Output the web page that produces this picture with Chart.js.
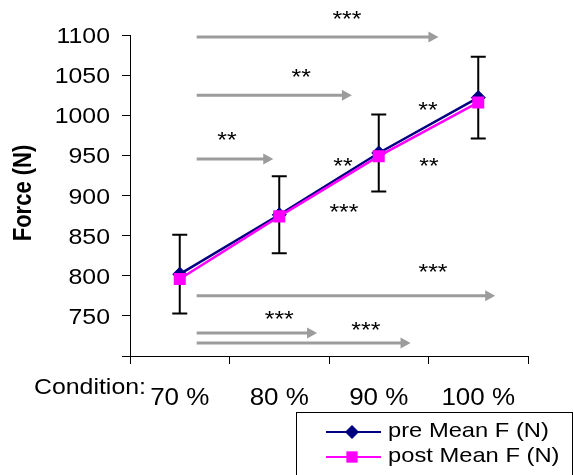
<!DOCTYPE html>
<html>
<head>
<meta charset="utf-8">
<title>Force by condition</title>
<script src="https://cdn.jsdelivr.net/npm/chart.js@4.4.1/dist/chart.umd.min.js"></script>
<style>
  html, body { margin: 0; padding: 0; background: #fff; }
  #wrap { width: 573px; height: 475px; position: relative; }
</style>
</head>
<body>
<div id="wrap"><canvas id="force-chart"></canvas></div>
<script>
(function () {
  "use strict";

  // Data
  var conditions = ["70 %", "80 %", "90 %", "100 %"];
  var preMean = [802, 876, 953, 1022];
  var preSD = [49, 48, 48, 51];
  var postMean = [796, 874, 949, 1016];

  // significance arrows: x in category units, y in N
  var arrowFrom = [0.17, 0.17, 0.17, 0.17, 0.17, 0.17];
  var arrowTo = [2.6, 1.73, 0.94, 3.17, 1.38, 2.32];
  var arrowAt = [1097.5, 1025, 945.5, 775, 728.7, 716.2];

  // star labels
  var starText = ["***", "**", "**", "***", "***", "***", "**", "**", "**", "***"];
  var starX = [1.68, 1.22, 0.475, 2.545, 1.0, 1.87, 1.64, 2.495, 2.505, 1.65];
  var starY = [1125, 1052.6, 974, 809.7, 751, 737.4, 941.7, 1011.5, 941.7, 884.4];

  var FONT = "'Liberation Sans', Arial, sans-serif";
  var STRETCH = 1.13;

  // text is drawn a little wide
  function wideText(ctx, text, x, y, align, font) {
    ctx.save();
    ctx.font = font;
    ctx.fillStyle = "#000";
    ctx.textAlign = align;
    ctx.textBaseline = "alphabetic";
    ctx.translate(x, y);
    ctx.scale(STRETCH, 1);
    ctx.fillText(text, 0, 0);
    ctx.restore();
  }

  function drawMarker(ctx, style, x, y, r, color) {
    ctx.save();
    ctx.fillStyle = color;
    ctx.beginPath();
    if (style === "rectRot") {
      ctx.moveTo(x - r, y);
      ctx.lineTo(x, y - r);
      ctx.lineTo(x + r, y);
      ctx.lineTo(x, y + r);
    } else {
      var h = r * Math.SQRT1_2;
      ctx.rect(x - h, y - h, 2 * h, 2 * h);
    }
    ctx.closePath();
    ctx.fill();
    ctx.restore();
  }

  // Error bars + arrows (under the lines)
  var underlay = {
    id: "underlay",
    beforeDatasetsDraw: function (chart) {
      var ctx = chart.ctx;
      var xs = chart.scales.x, ys = chart.scales.y;
      var meta = chart.getDatasetMeta(0);

      ctx.save();
      ctx.strokeStyle = "#000";
      ctx.lineWidth = 2;
      meta.data.forEach(function (pt, i) {
        var top = ys.getPixelForValue(preMean[i] + preSD[i]);
        var bot = ys.getPixelForValue(preMean[i] - preSD[i]);
        ctx.beginPath();
        ctx.moveTo(pt.x, top);
        ctx.lineTo(pt.x, bot);
        ctx.moveTo(pt.x - 7.5, top);
        ctx.lineTo(pt.x + 7.5, top);
        ctx.moveTo(pt.x - 7.5, bot);
        ctx.lineTo(pt.x + 7.5, bot);
        ctx.stroke();
      });

      ctx.strokeStyle = "#9c9c9c";
      ctx.fillStyle = "#9c9c9c";
      ctx.lineWidth = 3;
      arrowAt.forEach(function (v, i) {
        var y = ys.getPixelForValue(v);
        var x1 = xs.getPixelForValue(arrowFrom[i]);
        var x2 = xs.getPixelForValue(arrowTo[i]);
        ctx.beginPath();
        ctx.moveTo(x1, y);
        ctx.lineTo(x2 - 9, y);
        ctx.stroke();
        ctx.beginPath();
        ctx.moveTo(x2 - 10, y - 5.5);
        ctx.lineTo(x2, y);
        ctx.lineTo(x2 - 10, y + 5.5);
        ctx.closePath();
        ctx.fill();
      });
      ctx.restore();
    }
  };

  // Labels, stars and legend
  var overlay = {
    id: "overlay",
    afterDraw: function (chart) {
      var ctx = chart.ctx;
      var xs = chart.scales.x, ys = chart.scales.y;

      ys.ticks.forEach(function (t, i) {
        if (t.value === 700) return;
        wideText(ctx, String(t.value), 110, ys.getPixelForTick(i) + 8, "right", "22px " + FONT);
      });
      conditions.forEach(function (c, i) {
        wideText(ctx, c, xs.getPixelForTick(i), 405, "center", "23px " + FONT);
      });
      wideText(ctx, "Condition:", 34, 394, "left", "22px " + FONT);

      // axis title
      ctx.save();
      ctx.font = "bold 22px " + FONT;
      ctx.fillStyle = "#000";
      ctx.textAlign = "center";
      ctx.textBaseline = "alphabetic";
      ctx.translate(31, 193);
      ctx.scale(STRETCH, 1);
      ctx.rotate(-Math.PI / 2);
      ctx.fillText("Force (N)", 0, 0);
      ctx.restore();

      // stars
      var starFont = "22px " + FONT;
      ctx.save();
      ctx.font = starFont;
      starText.forEach(function (s, i) {
        var m = ctx.measureText(s);
        var cy = ys.getPixelForValue(starY[i]);
        var base = cy + (m.actualBoundingBoxAscent - m.actualBoundingBoxDescent) / 2;
        wideText(ctx, s, xs.getPixelForValue(starX[i]), base, "center", starFont);
      });
      ctx.restore();

      // legend
      ctx.save();
      ctx.strokeStyle = "#000";
      ctx.lineWidth = 1;
      ctx.strokeRect(296.5, 412.5, 276, 80);
      chart.data.datasets.forEach(function (ds, i) {
        var y = 432 + 25 * i;
        ctx.strokeStyle = ds.borderColor;
        ctx.lineWidth = 2;
        ctx.beginPath();
        ctx.moveTo(326, y);
        ctx.lineTo(381, y);
        ctx.stroke();
        drawMarker(ctx, ds.pointStyle, 352, y, ds.pointStyle === "rect" ? 8 : 7, ds.backgroundColor);
        wideText(ctx, ds.label, 388, 437 + 25 * i, "left", "21px " + FONT);
      });
      ctx.restore();
    }
  };

  var axisGrid = {
    drawOnChartArea: false,
    color: "#000",
    lineWidth: 1,
    tickLength: 8
  };

  var ctx1 = document.getElementById("force-chart").getContext("2d");
  var forceChart = new Chart(ctx1, {
    type: "line",
    data: {
      labels: conditions,
      datasets: [{
        label: "pre Mean F (N)",
        data: preMean,
        borderColor: "#000080",
        backgroundColor: "#000080",
        borderWidth: 2.5,
        pointStyle: "rectRot",
        pointRadius: 7,
        pointBorderWidth: 1,
        order: 2
      },
      {
        label: "post Mean F (N)",
        data: postMean,
        borderColor: "#ff00ff",
        backgroundColor: "#ff00ff",
        borderWidth: 2.5,
        pointStyle: "rect",
        pointRadius: 8.5,
        pointBorderWidth: 0,
        order: 1
      }]
    },
    options: {
      responsive: true,
      maintainAspectRatio: false,
      animation: false,
      devicePixelRatio: 1,
      layout: { padding: { top: 35, right: 45, left: 0, bottom: 0 } },
      plugins: {
        legend: { display: false },
        tooltip: { enabled: false }
      },
      scales: {
        x: {
          offset: true,
          grid: Object.assign({ offset: true }, axisGrid),
          border: { color: "#000", width: 1 },
          ticks: { display: false },
          afterFit: function (scale) { scale.height = 119; }
        },
        y: {
          min: 700,
          max: 1100,
          grid: axisGrid,
          border: { color: "#000", width: 1 },
          ticks: { stepSize: 50, display: false },
          afterFit: function (scale) { scale.width = 130; }
        }
      }
    },
    plugins: [underlay, overlay]
  });
})();
</script>
</body>
</html>
